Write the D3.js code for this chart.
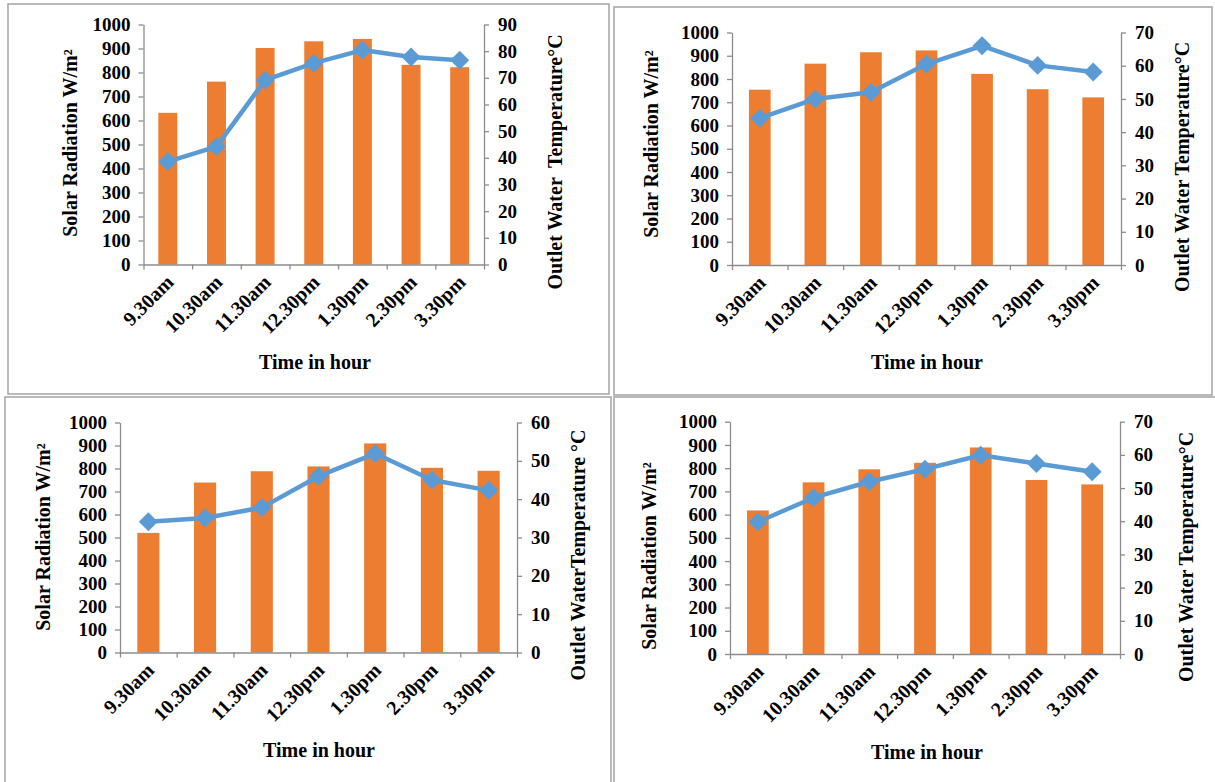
<!DOCTYPE html>
<html>
<head>
<meta charset="utf-8">
<script src="https://cdn.jsdelivr.net/npm/d3@7"></script>
<style>
  html, body { margin: 0; padding: 0; background: #fff; }
  svg { display: block; font-family: "Liberation Serif", "Times New Roman", "DejaVu Serif", serif; }
  .axis path, .axis line { stroke: #8c8c8c; stroke-width: 1.3; }
</style>
</head>
<body>
<svg id="chart" width="1215" height="782"></svg>
<script>
// data
const times = ['9.30am', '10.30am', '11.30am', '12.30pm', '1.30pm', '2.30pm', '3.30pm'];

const radiationA = [632, 762, 902, 930, 940, 832, 822];
const tempA = [38.6, 44.2, 69.1, 75.5, 80.4, 77.8, 76.6];

const radiationB = [754, 866, 915, 923, 822, 756, 721];
const tempB = [44.2, 50.0, 52.0, 60.5, 66.0, 60.1, 58.1];

const radiationC = [520, 739, 788, 809, 909, 803, 790];
const tempC = [34.1, 35.1, 37.8, 46.0, 51.9, 45.0, 42.3];

const radiationD = [618, 739, 795, 823, 889, 749, 730];
const tempD = [39.8, 47.1, 51.9, 55.7, 59.9, 57.4, 54.9];

const radiationTicks = d3.range(0, 1001, 100);

const ORANGE = '#ED7D31', BLUE = '#5B9BD5';
const FONT = '"Liberation Serif", "Times New Roman", "DejaVu Serif", serif';

// panel frames + plot geometry
const panels = [
  { rad: radiationA, temp: tempA, tMax: 90, box: [8, 4, 609, 394],
    l: 143.5, r: 484, t: 24.5, b: 264.5,
    lt: [70, 143], rt: [555, 162], xt: [315, 362], rtText: 'Outlet Water  Temperature°C' },
  { rad: radiationB, temp: tempB, tMax: 70, box: [614, 7, 1212, 395],
    l: 732, r: 1121, t: 32.5, b: 265,
    lt: [651, 144], rt: [1182, 167], xt: [927, 362], rtText: 'Outlet Water Temperature°C' },
  { rad: radiationC, temp: tempC, tMax: 60, box: [5, 397, 611, 792],
    l: 120, r: 517, t: 422.5, b: 652.5,
    lt: [43, 537], rt: [578, 555], xt: [319, 750], rtText: 'Outlet WaterTemperature °C' },
  { rad: radiationD, temp: tempD, tMax: 70, box: [614, 397, 1222, 792],
    l: 730, r: 1120, t: 421.7, b: 654,
    lt: [649, 556], rt: [1186, 557], xt: [927, 752], rtText: 'Outlet Water Temperature°C' }
];

const svg = d3.select('#chart');

function boldSerif(sel, size) {
  sel.style('font-family', FONT).style('font-weight', 'bold')
    .style('font-size', size + 'px').attr('fill', '#000');
}

panels.forEach(p => {
  const g = svg.append('g');

  g.append('rect')
    .attr('x', p.box[0]).attr('y', p.box[1])
    .attr('width', p.box[2] - p.box[0]).attr('height', p.box[3] - p.box[1])
    .attr('fill', 'none').attr('stroke', '#a9a9a9').attr('stroke-width', 1.6);

  const x = d3.scaleBand().domain(times).range([p.l, p.r]).padding(0);
  const xEdge = d3.scaleLinear().domain([0, times.length]).range([p.l, p.r]);
  const yRad = d3.scaleLinear().domain([0, 1000]).range([p.b, p.t]);
  const yTemp = d3.scaleLinear().domain([0, p.tMax]).range([p.b, p.t]);
  const bw = x.bandwidth() * 0.39;
  const cx = d => x(d) + x.bandwidth() / 2;

  // bars
  g.append('g').selectAll('rect')
    .data(times)
    .join('rect')
    .attr('x', d => cx(d) - bw / 2)
    .attr('width', bw)
    .attr('y', (d, i) => yRad(p.rad[i]))
    .attr('height', (d, i) => yRad(0) - yRad(p.rad[i]))
    .attr('fill', ORANGE);

  // axes
  const left = g.append('g').attr('class', 'axis')
    .attr('transform', `translate(${p.l},0)`)
    .call(d3.axisLeft(yRad).tickValues(radiationTicks).tickFormat(d3.format('d'))
      .tickSize(5).tickSizeOuter(0).tickPadding(8));
  left.selectAll('text').call(boldSerif, 19);

  const right = g.append('g').attr('class', 'axis')
    .attr('transform', `translate(${p.r},0)`)
    .call(d3.axisRight(yTemp).ticks(p.tMax / 10).tickFormat(d3.format('d'))
      .tickSize(5).tickSizeOuter(0).tickPadding(9));
  right.selectAll('text').call(boldSerif, 19);

  g.append('g').attr('class', 'axis')
    .attr('transform', `translate(0,${p.b})`)
    .call(d3.axisBottom(xEdge).tickValues(d3.range(0, times.length + 1))
      .tickSize(5).tickSizeOuter(0).tickFormat(''));

  // rotated category labels
  g.append('g').selectAll('text')
    .data(times)
    .join('text')
    .attr('transform', d => `translate(${cx(d) + 7},${p.b + 19}) rotate(-45)`)
    .attr('text-anchor', 'end')
    .call(boldSerif, 20)
    .text(d => d);

  // temperature line
  const line = d3.line().x(d => cx(d)).y((d, i) => yTemp(p.temp[i]));
  g.append('path')
    .datum(times)
    .attr('d', line)
    .attr('fill', 'none')
    .attr('stroke', BLUE)
    .attr('stroke-width', 4.5)
    .attr('stroke-linejoin', 'round');

  const diamond = d3.symbol().type(d3.symbolSquare).size(180);
  g.append('g').selectAll('path')
    .data(times)
    .join('path')
    .attr('d', diamond)
    .attr('transform', (d, i) => `translate(${cx(d)},${yTemp(p.temp[i])}) rotate(45)`)
    .attr('fill', BLUE);

  // titles
  g.append('text')
    .attr('transform', `translate(${p.lt[0]},${p.lt[1]}) rotate(-90)`)
    .attr('text-anchor', 'middle').attr('dy', '0.35em')
    .call(boldSerif, 20)
    .text('Solar Radiation W/m²');

  g.append('text')
    .attr('transform', `translate(${p.rt[0]},${p.rt[1]}) rotate(-90)`)
    .attr('text-anchor', 'middle').attr('dy', '0.35em')
    .call(boldSerif, 20)
    .style('white-space', 'pre')
    .text(p.rtText);

  g.append('text')
    .attr('x', p.xt[0]).attr('y', p.xt[1])
    .attr('text-anchor', 'middle').attr('dy', '0.35em')
    .call(boldSerif, 20)
    .text('Time in hour');
});
</script>
</body>
</html>
